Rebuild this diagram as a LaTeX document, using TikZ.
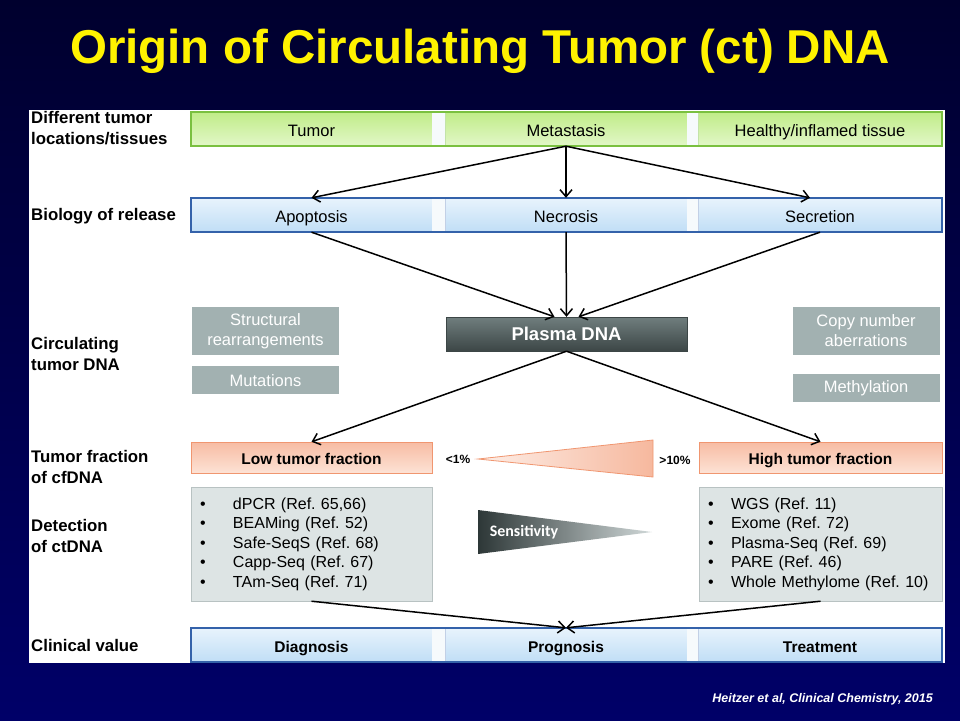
\documentclass[tikz,border=0pt]{standalone}
\usepackage{fontspec}
\setmainfont{Liberation Sans}
\newfontfamily\calibri{Carlito}
\usetikzlibrary{arrows.meta, positioning, calc}

\definecolor{bgtop}{RGB}{0,0,46}
\definecolor{bgbot}{RGB}{0,0,104}
\definecolor{greenline}{RGB}{122,192,64}
\definecolor{greentop}{RGB}{192,236,136}
\definecolor{greenbot}{RGB}{226,247,200}
\definecolor{blueline}{RGB}{52,98,170}
\definecolor{bluetop}{RGB}{232,243,252}
\definecolor{bluebot}{RGB}{192,222,246}
\definecolor{stripfill}{RGB}{246,250,252}
\definecolor{markergray}{RGB}{162,177,177}
\definecolor{plasmatop}{RGB}{112,126,126}
\definecolor{plasmabot}{RGB}{60,70,70}
\definecolor{salmonline}{RGB}{240,150,112}
\definecolor{salmontop}{RGB}{247,188,163}
\definecolor{salmonbot}{RGB}{253,226,213}
\definecolor{salmonlight}{RGB}{253,238,231}
\definecolor{detfill}{RGB}{221,228,228}
\definecolor{detline}{RGB}{184,194,194}
\definecolor{sensdark}{RGB}{45,55,55}
\definecolor{senslight}{RGB}{208,216,216}

\newcommand{\setfs}[2]{\fontsize{#1}{#2}\selectfont}
\newcommand{\ritem}[2][33pt]{\makebox[#1][l]{\textbullet}#2}

\tikzset{
  seg/.style={inner sep=0pt, minimum height=34pt, text height=14pt, text depth=0pt,
    font=\setfs{16.5}{20}},
  greenseg/.style={seg, draw=greenline!45, top color=greentop, bottom color=greenbot},
  blueseg/.style={seg, draw=blueline!30, top color=bluetop, bottom color=bluebot},
  colA/.style={minimum width=241pt},
  colB/.style={minimum width=242pt},
  colC/.style={minimum width=244pt},
  rowlabel/.style={anchor=west, align=left, inner sep=0pt, font=\bfseries\setfs{16.8}{20.5}},
  gbox/.style={fill=markergray, text=white, align=center, inner sep=0pt, minimum width=147pt,
    font=\setfs{16.5}{20}},
  plasmabox/.style={draw=plasmabot, top color=plasmatop, bottom color=plasmabot, text=white,
    minimum width=241pt, minimum height=34pt, inner sep=0pt, font=\bfseries\setfs{18.5}{22}},
  fracbox/.style={draw=salmonline, top color=salmontop, bottom color=salmonbot, minimum height=31pt,
    inner sep=0pt, text height=13pt, text depth=0pt, font=\bfseries\setfs{15.5}{19}},
  detbox/.style={draw=detline, fill=detfill, minimum height=114pt, inner xsep=9pt, inner ysep=0pt,
    align=left, font=\setfs{16}{19.5}},
  pctlabel/.style={inner sep=0pt, font=\bfseries\setfs{12}{14}},
  arr/.style={-{Straight Barb[length=7pt, width=12pt]}, line width=1.5pt},
  titletext/.style={text=yellow, inner sep=0pt, font=\bfseries\setfs{47.5}{56}},
}

\begin{document}
\frenchspacing
\begin{tikzpicture}[x=1pt, y=-1pt]
  \useasboundingbox (0,0) rectangle (960,720);
  \shade[top color=bgtop, bottom color=bgbot] (0,0) rectangle (960,720);
  \node[titletext, anchor=base] (title) at (480,63) {Origin of Circulating Tumor (ct) DNA};
  \fill[white] (29,110) rectangle (945,663);

  % row labels
  \node[rowlabel] (lblloc) at (31,128) {Different tumor\\locations/tissues};
  \node[rowlabel] (lblbio) at (31,216) {Biology of release};
  \node[rowlabel] (lblctdna) at (31,354) {Circulating\\tumor DNA};
  \node[rowlabel] (lblfrac) at (31,467) {Tumor fraction\\of cfDNA};
  \node[rowlabel] (lbldet) at (31,536) {Detection\\of ctDNA};
  \node[rowlabel] (lblclin) at (31,645) {Clinical value};

  % the three bars
  \node[greenseg, colA] (tumor) at (311.5,129) {Tumor};
  \node[greenseg, colB] (metastasis) at (566,129) {Metastasis};
  \node[greenseg, colC] (healthy) at (820,129) {Healthy/inflamed tissue};
  \node[blueseg, colA] (apoptosis) at (311.5,215) {Apoptosis};
  \node[blueseg, colB] (necrosis) at (566,215) {Necrosis};
  \node[blueseg, colC] (secretion) at (820,215) {Secretion};
  \node[blueseg, colA, font=\bfseries\setfs{15.5}{19}] (diagnosis) at (311.5,645) {Diagnosis};
  \node[blueseg, colB, font=\bfseries\setfs{15.5}{19}] (prognosis) at (566,645) {Prognosis};
  \node[blueseg, colC, font=\bfseries\setfs{15.5}{19}] (treatment) at (820,645) {Treatment};
  \foreach \a/\b in {tumor/metastasis, metastasis/healthy, apoptosis/necrosis, necrosis/secretion,
      diagnosis/prognosis, prognosis/treatment}
    \fill[stripfill] (\a.north east) rectangle (\b.south west);
  \foreach \a/\b/\c in {tumor/healthy/greenline, apoptosis/secretion/blueline,
      diagnosis/treatment/blueline}
    \draw[\c, line width=1.5pt] (\a.north west) rectangle (\b.south east);

  % ctDNA
  \node[plasmabox] (plasma) at (566.5,334) {Plasma DNA};
  \node[gbox, minimum height=48pt] (structural) at (265.5,331) {Structural\\rearrangements};
  \node[gbox, minimum height=28pt, below=11pt of structural] (mutations) {Mutations};
  \node[gbox, minimum height=48pt] (copynumber) at (866,331) {Copy number\\aberrations};
  \node[gbox, minimum height=28pt, below=19pt of copynumber] (methylation) {Methylation};

  % tumor fraction
  \node[fracbox, minimum width=241pt] (lowfrac) at (311.5,457.5) {Low tumor fraction};
  \node[fracbox, minimum width=243pt] (highfrac) at (820.5,457.5) {High tumor fraction};
  \path[draw=salmonline, line width=0.8pt, left color=salmonlight, right color=salmontop!90!salmonline]
    (478,459) -- (653,440) -- (653,477) -- cycle;
  \node[pctlabel] (lowpct) at (458,459) {<1\%};
  \node[pctlabel] (highpct) at (675,460) {>10\%};

  % detection
  \node[detbox, text width=223pt] (lowdet) at (311.5,544) {\ritem{dPCR (Ref. 65,66)}\\
    \ritem{BEAMing (Ref. 52)}\\ \ritem{Safe-SeqS (Ref. 68)}\\ \ritem{Capp-Seq (Ref. 67)}\\
    \ritem{TAm-Seq (Ref. 71)}};
  \node[detbox, text width=225pt] (highdet) at (820.5,544) {\ritem[23pt]{WGS (Ref. 11)}\\
    \ritem[23pt]{Exome (Ref. 72)}\\ \ritem[23pt]{Plasma-Seq (Ref. 69)}\\ \ritem[23pt]{PARE (Ref. 46)}\\
    \ritem[23pt]{Whole Methylome (Ref. 10)}};
  \shade[left color=sensdark, right color=senslight] (478,510) -- (652,532) -- (478,554) -- cycle;
  \node[text=white, inner sep=0pt, font=\calibri\bfseries\setfs{16}{18}] (sens) at (524,532) {Sensitivity};

  % arrows
  \draw[arr] (metastasis.south) -- (apoptosis.north);
  \draw[arr] (metastasis.south) -- (necrosis.north);
  \draw[arr] (metastasis.south) -- ($(secretion.north)+(-10,0)$);
  \draw[arr] (apoptosis.south) -- ($(plasma.north)+(-12,0)$);
  \draw[arr] (necrosis.south) -- (plasma.north);
  \draw[arr] (secretion.south) -- ($(plasma.north)+(12,0)$);
  \draw[arr] (plasma.south) -- (lowfrac.north);
  \draw[arr] (plasma.south) -- (highfrac.north);
  \draw[arr] (lowdet.south) -- (prognosis.north);
  \draw[arr] (highdet.south) -- (prognosis.north);

  \node[anchor=base east, text=white, inner sep=0pt, font=\bfseries\itshape\setfs{12.5}{15}] (source)
    at (933,702) {Heitzer et al, Clinical Chemistry, 2015};
\end{tikzpicture}
\end{document}
